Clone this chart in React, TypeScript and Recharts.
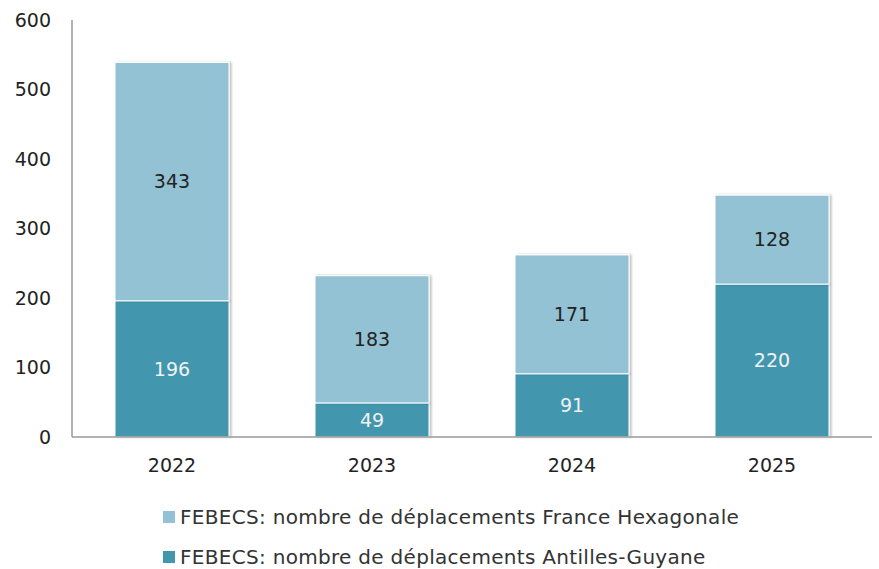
import React from 'react';
import { BarChart, Bar, XAxis, YAxis, LabelList } from 'recharts';

const years = ['2022', '2023', '2024', '2025'];
const antillesGuyane = [196, 49, 91, 220];
const franceHexagonale = [343, 183, 171, 128];
const yTicks = [0, 100, 200, 300, 400, 500, 600];

const LIGHT = '#93c2d4';
const DARK = '#4297af';
const FONT = '"DejaVu Sans", Verdana, sans-serif';

const data = years.map((year, i) => ({
  year,
  antilles: antillesGuyane[i],
  france: franceHexagonale[i],
}));

const legendItems = [
  { label: 'FEBECS: nombre de déplacements France Hexagonale', color: LIGHT },
  { label: 'FEBECS: nombre de déplacements Antilles-Guyane', color: DARK },
];

const ChartLegend = () => (
  <div
    style={{
      position: 'absolute',
      left: 163,
      top: 497,
      fontFamily: FONT,
      fontSize: 20,
      letterSpacing: 0.3,
      color: '#333',
      whiteSpace: 'nowrap',
    }}
  >
    {legendItems.map((item) => (
      <div key={item.label} style={{ display: 'flex', alignItems: 'center', height: 40 }}>
        <span style={{ width: 12, height: 12, background: item.color, marginRight: 5, display: 'inline-block' }} />
        <span>{item.label}</span>
      </div>
    ))}
  </div>
);

const App: React.FC = () => {
  return (
    <div style={{ position: 'absolute', left: 0, top: 0, width: 879, height: 569, background: '#fff' }}>
      <BarChart
        width={879}
        height={569}
        data={data}
        margin={{ top: 20, right: 7, left: 0, bottom: 102 }}
        barCategoryGap="21.5%"
      >
        <defs>
          <filter id="barShadow" x="-10%" y="-10%" width="130%" height="120%">
            <feDropShadow dx="2" dy="0" stdDeviation="1.2" floodColor="#000" floodOpacity="0.25" />
          </filter>
        </defs>
        <XAxis
          dataKey="year"
          height={30}
          axisLine={{ stroke: '#999', strokeWidth: 1.5 }}
          tickLine={false}
          tickSize={0}
          tickMargin={22}
          tick={{ fill: '#222', fontSize: 19, fontFamily: FONT }}
        />
        <YAxis
          width={72}
          domain={[0, 600]}
          ticks={yTicks}
          axisLine={{ stroke: '#999', strokeWidth: 1.5 }}
          tickLine={false}
          tickSize={0}
          tickMargin={21}
          tick={{ fill: '#222', fontSize: 19, fontFamily: FONT }}
        />
        <Bar
          dataKey="antilles"
          stackId="a"
          fill={DARK}
          stroke="#fff"
          strokeWidth={1}
          filter="url(#barShadow)"
          isAnimationActive={false}
        >
          <LabelList dataKey="antilles" position="center" fill="#f2f2f2" fontSize={19} fontFamily={FONT} />
        </Bar>
        <Bar
          dataKey="france"
          stackId="a"
          fill={LIGHT}
          stroke="#fff"
          strokeWidth={1}
          filter="url(#barShadow)"
          isAnimationActive={false}
        >
          <LabelList dataKey="france" position="center" fill="#222" fontSize={19} fontFamily={FONT} />
        </Bar>
      </BarChart>
      <ChartLegend />
    </div>
  );
};

export default App;
